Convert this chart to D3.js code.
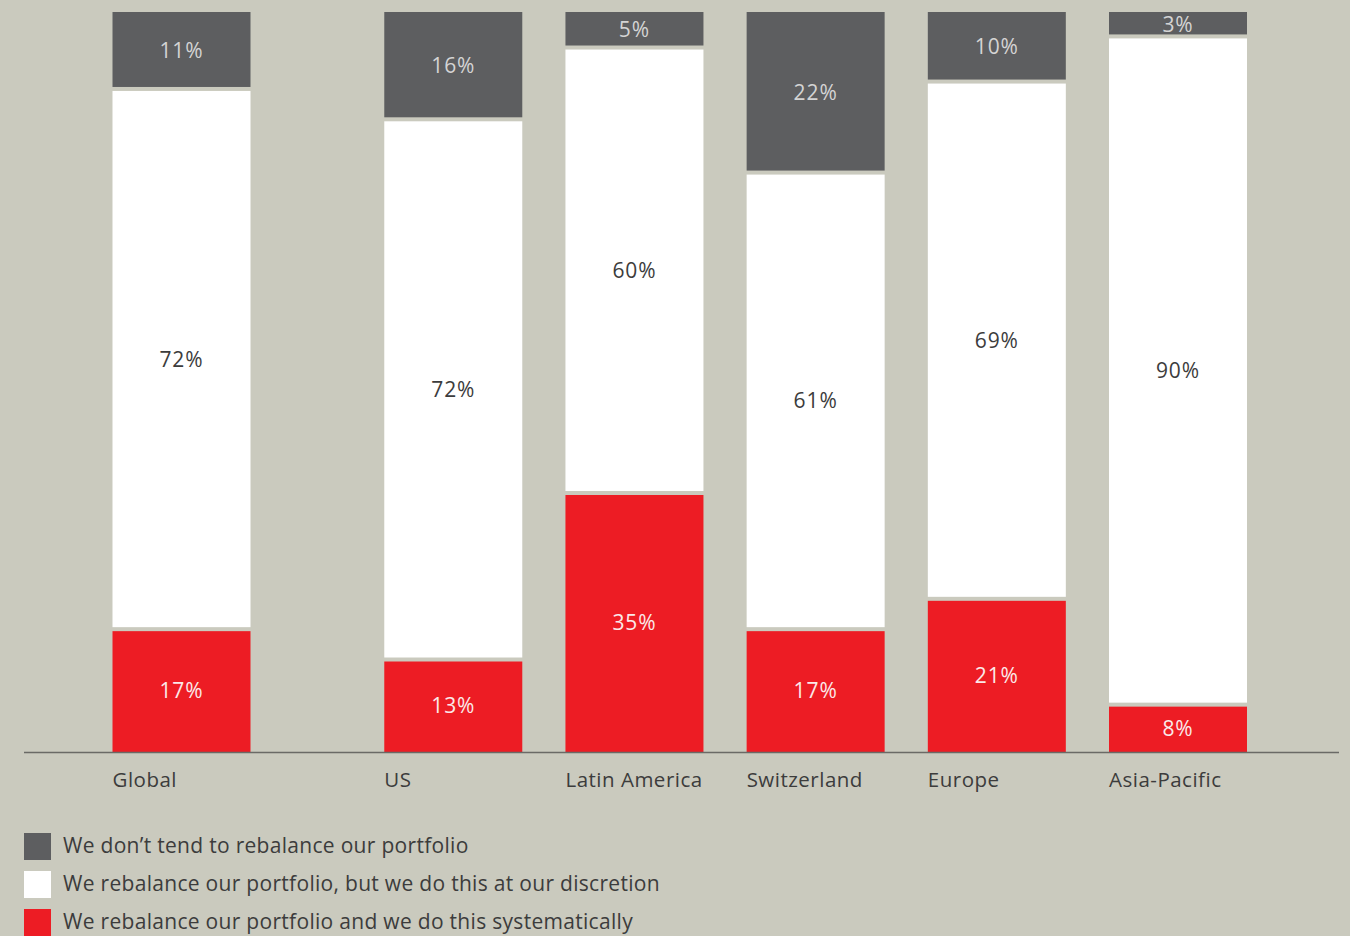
<!DOCTYPE html>
<html>
<head>
<meta charset="utf-8">
<script src="https://cdn.jsdelivr.net/npm/d3@7"></script>
<style>
	html, body { margin: 0; padding: 0; background: #cacabe; }
	svg { display: block; }
	text { font-family: "Open Sans", "Noto Sans", sans-serif; }
</style>
</head>
<body>
<div id="content"></div>
<script>
// categories, left to right
let regions = ['Global', 'US', 'Latin America', 'Switzerland', 'Europe', 'Asia-Pacific']

// reported shares (labels printed on the bars), %
let noRebalance = [11, 16, 5, 22, 10, 3]
let discretion = [72, 72, 60, 61, 69, 90]
let systematic = [17, 13, 35, 17, 21, 8]

let noRebalanceDrawn = [10.4, 14.5, 4.8, 21.7, 9.4, 3.3]
let discretionDrawn = [73.0, 73.0, 60.2, 61.7, 69.9, 90.3]
let systematicDrawn = [16.6, 12.5, 35.0, 16.6, 20.7, 6.4]

let legendLabels = [
	'We don\u2019t tend to rebalance our portfolio',
	'We rebalance our portfolio, but we do this at our discretion',
	'We rebalance our portfolio and we do this systematically',
]

let WIDTH = 1350
let HEIGHT = 936
let BAR_WIDTH = 138
let GAP = 2

let COLORS = {
	bg: '#cacabe',
	gray: '#5d5e60',
	white: '#ffffff',
	red: '#ed1c24',
	axis: '#6a6a66',
	text: '#3c3c3c',
}

let series = [
	{ key: 'gray', drawn: noRebalanceDrawn, label: noRebalance, fill: COLORS.gray, ink: '#d4d4d4' },
	{ key: 'white', drawn: discretionDrawn, label: discretion, fill: COLORS.white, ink: '#3c3c3c' },
	{ key: 'red', drawn: systematicDrawn, label: systematic, fill: COLORS.red, ink: '#fbe9e9' },
]

let svg = d3.select('#content').append('svg')
	.attr('width', WIDTH)
	.attr('height', HEIGHT)

svg.append('rect')
	.attr('width', WIDTH)
	.attr('height', HEIGHT)
	.attr('fill', COLORS.bg)

// first bar stands a half step apart from the rest
let slot = (i) => i === 0 ? 0 : i + 0.5
let x = d3.scaleLinear()
	.domain([0, slot(regions.length - 1)])
	.range([112.5, 1109])

let y = d3.scaleLinear()
	.domain([0, 100])
	.range([752, 12])

// stack bottom-up: red, white, gray
let rows = regions.map((name, i) => {
	let segs = []
	let acc = 0
	let order = [series[2], series[1], series[0]]
	order.forEach((s, k) => {
		segs.push({
			name: name,
			i: i,
			s: s,
			y0: acc,
			y1: acc + s.drawn[i],
			first: k === 0,
			last: k === order.length - 1,
		})
		acc += s.drawn[i]
	})
	return segs
})
let segments = rows.flat()

let bars = svg.append('g').attr('class', 'bars')

bars.selectAll('rect.seg')
	.data(segments)
	.enter().append('rect')
		.attr('class', 'seg')
		.attr('x', (d) => x(slot(d.i)))
		.attr('width', BAR_WIDTH)
		.attr('y', (d) => y(d.y1) + (d.last ? 0 : GAP))
		.attr('height', (d) => {
			let top = y(d.y1) + (d.last ? 0 : GAP)
			let bottom = y(d.y0) - (d.first ? 0 : GAP)
			return bottom - top
		})
		.attr('fill', (d) => d.s.fill)

bars.selectAll('text.val')
	.data(segments)
	.enter().append('text')
		.attr('class', 'val')
		.attr('x', (d) => x(slot(d.i)) + BAR_WIDTH / 2)
		.attr('y', (d) => (y(d.y0) + y(d.y1)) / 2)
		.attr('dy', '0.36em')
		.attr('text-anchor', 'middle')
		.attr('font-size', 21)
		.attr('letter-spacing', 0.9)
		.attr('fill', (d) => d.s.ink)
		.text((d) => `${d.s.label[d.i]}%`)

// baseline
svg.append('line')
	.attr('x1', 24)
	.attr('x2', 1339)
	.attr('y1', y(0) + 0.5)
	.attr('y2', y(0) + 0.5)
	.attr('stroke', COLORS.axis)
	.attr('stroke-width', 1.5)

svg.append('g').attr('class', 'cats')
	.selectAll('text')
	.data(regions)
	.enter().append('text')
		.attr('x', (d, i) => x(slot(i)))
		.attr('y', 787)
		.attr('font-size', 20.5)
		.attr('letter-spacing', 0.5)
		.attr('fill', COLORS.text)
		.text((d) => d)

// legend
let legend = svg.append('g').attr('class', 'legend')
	.selectAll('g')
	.data(series)
	.enter().append('g')
		.attr('transform', (d, i) => `translate(24, ${833 + i * 38})`)

legend.append('rect')
	.attr('width', 27)
	.attr('height', 27)
	.attr('fill', (d) => d.fill)

legend.append('text')
	.attr('x', 39)
	.attr('y', 20)
	.attr('font-size', 21)
	.attr('letter-spacing', 0.3)
	.attr('fill', COLORS.text)
	.text((d, i) => legendLabels[i])
</script>
</body>
</html>
